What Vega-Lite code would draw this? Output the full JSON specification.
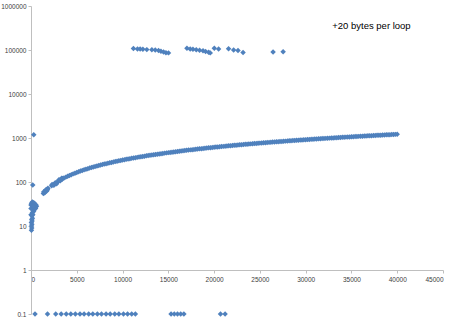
{
  "$schema": "https://vega.github.io/schema/vega-lite/v6.json",
  "width": 412,
  "height": 308,
  "autosize": {"type": "none"},
  "padding": {"left": 31, "top": 6, "right": 13, "bottom": 6},
  "background": "white",
  "config": {"view": {"stroke": null}, "font": "Liberation Sans"},
  "layer": [
    {
      "data": {"values": [
        {"x":50,"y":8},{"x":80,"y":9},{"x":60,"y":10},{"x":100,"y":11},{"x":40,"y":12},{"x":120,"y":13},{"x":80,"y":14},{"x":150,"y":15},{"x":100,"y":17},{"x":200,"y":18},{"x":150,"y":20},{"x":250,"y":21},{"x":300,"y":22},{"x":200,"y":24},{"x":350,"y":24},{"x":400,"y":26},{"x":500,"y":27},{"x":450,"y":28},{"x":300,"y":29},{"x":550,"y":30},{"x":100,"y":30},{"x":200,"y":32},{"x":400,"y":32},{"x":50,"y":33},{"x":150,"y":35},{"x":300,"y":34},{"x":500,"y":25},{"x":600,"y":28},{"x":0,"y":25},{"x":0,"y":18},{"x":0,"y":30},{"x":250,"y":28},
        {"x":190,"y":85},{"x":300,"y":1190},
        {"x":1350,"y":55},{"x":1450,"y":58},{"x":1550,"y":61},{"x":1650,"y":64},{"x":1750,"y":68},{"x":1850,"y":72},{"x":1400,"y":60},{"x":1500,"y":57},{"x":1600,"y":66},{"x":1700,"y":62},{"x":1800,"y":67},
        {"x":2250,"y":82},{"x":2400,"y":86},{"x":2550,"y":89},{"x":2700,"y":93},{"x":2850,"y":97},{"x":2300,"y":88},{"x":2500,"y":84},{"x":2650,"y":96},{"x":2800,"y":91},
        {"x":3000,"y":105},{"x":3150,"y":110},{"x":3300,"y":115},{"x":3450,"y":120},{"x":3050,"y":112},{"x":3200,"y":107},{"x":3400,"y":116},{"x":3350,"y":122},
        {"x":3600,"y":123},{"x":4000,"y":135},{"x":4400,"y":147},{"x":4800,"y":159},{"x":5200,"y":171},{"x":5600,"y":183},{"x":6000,"y":195},{"x":6400,"y":207},{"x":6800,"y":219},{"x":7200,"y":231},{"x":7600,"y":243},{"x":8000,"y":255},{"x":8400,"y":267},{"x":8800,"y":279},{"x":9200,"y":291},{"x":9600,"y":303},{"x":10000,"y":315},{"x":10400,"y":327},{"x":10800,"y":339},{"x":11200,"y":351},{"x":11600,"y":363},{"x":12000,"y":375},{"x":12400,"y":387},{"x":12800,"y":399},{"x":13200,"y":411},{"x":13600,"y":423},{"x":14000,"y":435},{"x":14400,"y":447},{"x":14800,"y":459},{"x":15200,"y":471},{"x":15600,"y":483},{"x":16000,"y":495},{"x":16400,"y":507},{"x":16800,"y":519},{"x":17200,"y":531},{"x":17600,"y":543},{"x":18000,"y":555},{"x":18400,"y":567},{"x":18800,"y":579},{"x":19200,"y":591},{"x":19600,"y":603},{"x":20000,"y":615},{"x":20400,"y":627},{"x":20800,"y":639},{"x":21200,"y":651},{"x":21600,"y":663},{"x":22000,"y":675},{"x":22400,"y":687},{"x":22800,"y":699},{"x":23200,"y":711},{"x":23600,"y":723},{"x":24000,"y":735},{"x":24400,"y":747},{"x":24800,"y":759},{"x":25200,"y":771},{"x":25600,"y":783},{"x":26000,"y":795},{"x":26400,"y":807},{"x":26800,"y":819},{"x":27200,"y":831},{"x":27600,"y":843},{"x":28000,"y":855},{"x":28400,"y":867},{"x":28800,"y":879},{"x":29200,"y":891},{"x":29600,"y":903},{"x":30000,"y":915},{"x":30400,"y":927},{"x":30800,"y":939},{"x":31200,"y":951},{"x":31600,"y":963},{"x":32000,"y":975},{"x":32400,"y":987},{"x":32800,"y":999},{"x":33200,"y":1011},{"x":33600,"y":1023},{"x":34000,"y":1035},{"x":34400,"y":1047},{"x":34800,"y":1059},{"x":35200,"y":1071},{"x":35600,"y":1083},{"x":36000,"y":1095},{"x":36400,"y":1107},{"x":36800,"y":1119},{"x":37200,"y":1131},{"x":37600,"y":1143},{"x":38000,"y":1155},{"x":38400,"y":1167},{"x":38800,"y":1179},{"x":39200,"y":1191},{"x":39600,"y":1203},{"x":40000,"y":1215},
        {"x":3800,"y":129},{"x":4200,"y":141},{"x":4600,"y":153},{"x":5000,"y":165},{"x":5400,"y":177},{"x":5800,"y":189},{"x":6200,"y":201},{"x":6600,"y":213},{"x":7000,"y":225},{"x":7400,"y":237},{"x":7800,"y":249},{"x":8200,"y":261},{"x":8600,"y":273},{"x":9000,"y":285},{"x":9400,"y":297},{"x":9800,"y":309},{"x":10200,"y":321},{"x":10600,"y":333},{"x":11000,"y":345},{"x":11400,"y":357},{"x":11800,"y":369},{"x":12200,"y":381},{"x":12600,"y":393},{"x":13000,"y":405},{"x":13400,"y":417},{"x":13800,"y":429},{"x":14200,"y":441},{"x":14600,"y":453},{"x":15000,"y":465},{"x":15400,"y":477},{"x":15800,"y":489},{"x":16200,"y":501},{"x":16600,"y":513},{"x":17000,"y":525},{"x":17400,"y":537},{"x":17800,"y":549},{"x":18200,"y":561},{"x":18600,"y":573},{"x":19000,"y":585},{"x":19400,"y":597},{"x":19800,"y":609},{"x":20200,"y":621},{"x":20600,"y":633},{"x":21000,"y":645},{"x":21400,"y":657},{"x":21800,"y":669},{"x":22200,"y":681},{"x":22600,"y":693},{"x":23000,"y":705},{"x":23400,"y":717},{"x":23800,"y":729},{"x":24200,"y":741},{"x":24600,"y":753},{"x":25000,"y":765},{"x":25400,"y":777},{"x":25800,"y":789},{"x":26200,"y":801},{"x":26600,"y":813},{"x":27000,"y":825},{"x":27400,"y":837},{"x":27800,"y":849},{"x":28200,"y":861},{"x":28600,"y":873},{"x":29000,"y":885},{"x":29400,"y":897},{"x":29800,"y":909},{"x":30200,"y":921},{"x":30600,"y":933},{"x":31000,"y":945},{"x":31400,"y":957},{"x":31800,"y":969},{"x":32200,"y":981},{"x":32600,"y":993},{"x":33000,"y":1005},{"x":33400,"y":1017},{"x":33800,"y":1029},{"x":34200,"y":1041},{"x":34600,"y":1053},{"x":35000,"y":1065},{"x":35400,"y":1077},{"x":35800,"y":1089},{"x":36200,"y":1101},{"x":36600,"y":1113},{"x":37000,"y":1125},{"x":37400,"y":1137},{"x":37800,"y":1149},{"x":38200,"y":1161},{"x":38600,"y":1173},{"x":39000,"y":1185},{"x":39400,"y":1197},{"x":39800,"y":1209},
        {"x":440,"y":0.1},{"x":1800,"y":0.1},{"x":2700,"y":0.1},{"x":3300,"y":0.1},{"x":3850,"y":0.1},{"x":4350,"y":0.1},{"x":4850,"y":0.1},{"x":5350,"y":0.1},{"x":5800,"y":0.1},{"x":6300,"y":0.1},{"x":6750,"y":0.1},{"x":7250,"y":0.1},{"x":7700,"y":0.1},{"x":8200,"y":0.1},{"x":8650,"y":0.1},{"x":9150,"y":0.1},{"x":9600,"y":0.1},{"x":10100,"y":0.1},{"x":10550,"y":0.1},{"x":11000,"y":0.1},{"x":11400,"y":0.1},
        {"x":15300,"y":0.1},{"x":15650,"y":0.1},{"x":16000,"y":0.1},{"x":16350,"y":0.1},{"x":16700,"y":0.1},{"x":20700,"y":0.1},{"x":21200,"y":0.1},
        {"x":11190,"y":108000},{"x":11630,"y":106000},{"x":11920,"y":105000},{"x":12220,"y":104000},{"x":12650,"y":102000},{"x":13200,"y":101000},{"x":13570,"y":100000},{"x":13930,"y":97000},{"x":14190,"y":94000},{"x":14480,"y":90000},{"x":14740,"y":87000},{"x":15020,"y":86000},
        {"x":17030,"y":109000},{"x":17390,"y":106000},{"x":17690,"y":104000},{"x":18050,"y":101000},{"x":18410,"y":99000},{"x":18790,"y":96000},{"x":19070,"y":93000},{"x":19400,"y":89000},{"x":19580,"y":86000},
        {"x":20020,"y":110000},{"x":20490,"y":106000},
        {"x":21580,"y":107000},{"x":22130,"y":100000},{"x":22610,"y":97000},{"x":23160,"y":88000},
        {"x":26440,"y":90000},{"x":27540,"y":91000}
      ]},
      "mark": {"type": "point", "shape": "diamond", "filled": true, "size": 30, "color": "#4F81BD", "opacity": 1},
      "encoding": {
        "x": {
          "field": "x", "type": "quantitative",
          "scale": {"domain": [0, 45000], "nice": false, "zero": false},
          "axis": {
            "title": null, "values": [0,5000,10000,15000,20000,25000,30000,35000,40000,45000],
            "format": "d", "offset": -44, "grid": false,
            "domainColor": "#BFBFBF", "tickColor": "#BFBFBF", "tickSize": 3,
            "labelFontSize": 6.5, "labelColor": "#404040", "labelPadding": 3
          }
        },
        "y": {
          "field": "y", "type": "quantitative",
          "scale": {"type": "log", "domain": [0.1, 1000000], "nice": false},
          "axis": {
            "title": null, "values": [0.1,1,10,100,1000,10000,100000,1000000],
            "labelExpr": "datum.value < 1 ? '0.1' : format(datum.value, 'd')",
            "grid": false, "domainColor": "#BFBFBF", "tickColor": "#BFBFBF", "tickSize": 3,
            "labelFontSize": 6.5, "labelColor": "#404040", "labelPadding": 2
          }
        }
      }
    },
    {
      "data": {"values": [{"x": 32900, "y": 356000, "label": "+20 bytes per loop"}]},
      "mark": {"type": "text", "align": "left", "baseline": "middle", "fontSize": 9.5, "color": "#000000"},
      "encoding": {
        "x": {"field": "x", "type": "quantitative"},
        "y": {"field": "y", "type": "quantitative"},
        "text": {"field": "label"}
      }
    }
  ]
}
